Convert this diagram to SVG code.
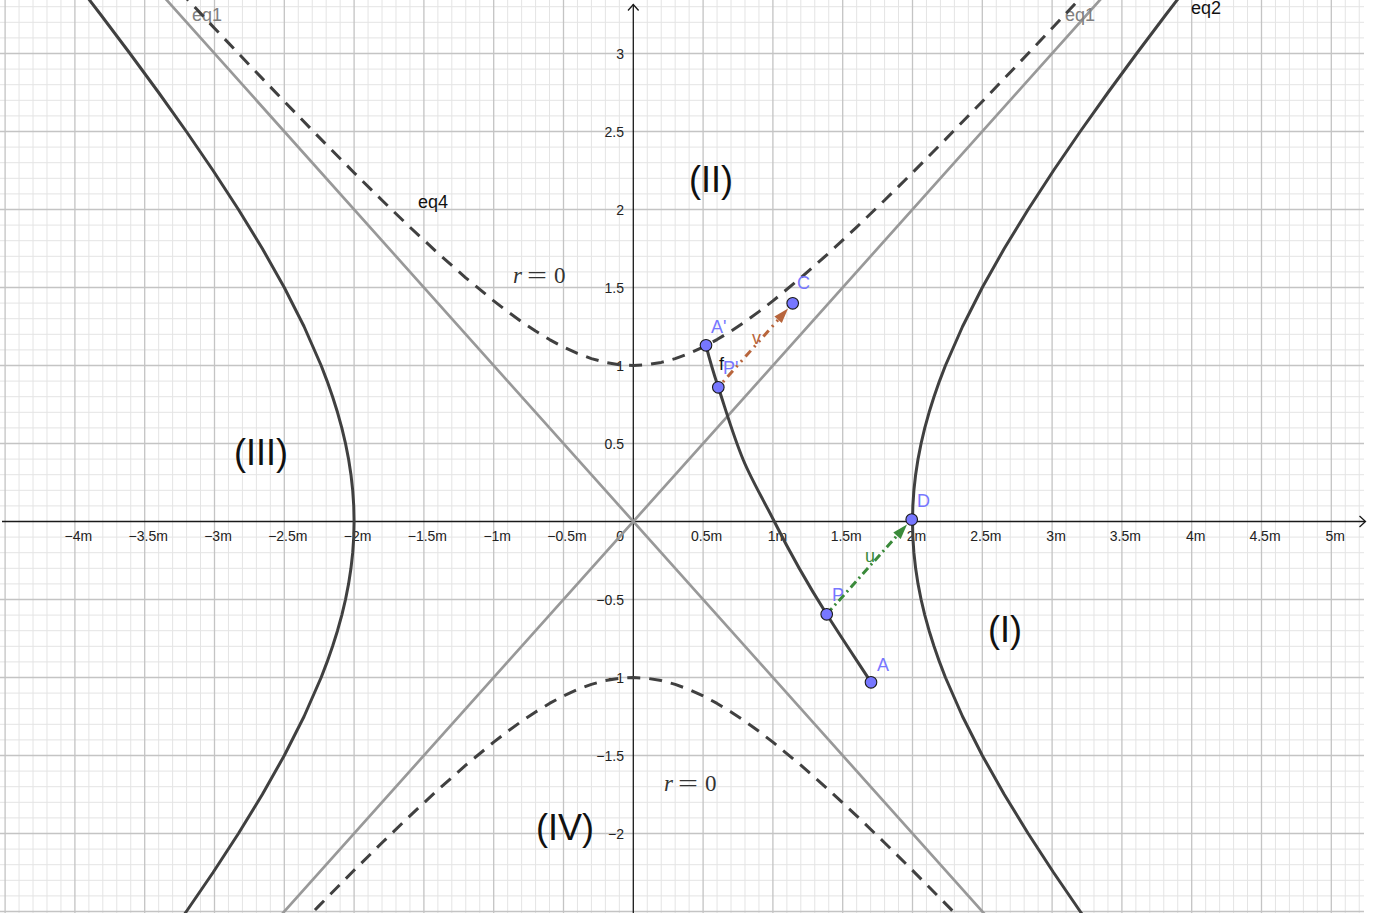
<svg xmlns="http://www.w3.org/2000/svg" width="1378" height="913" viewBox="0 0 1378 913">
<style>
text{font-family:"Liberation Sans",Arial,sans-serif}
.minor{stroke:#e4e4e4;stroke-width:1;fill:none}
.major{stroke:#c4c4c4;stroke-width:1.3;fill:none}
.axis{stroke:#1a1a1a;stroke-width:1.3;fill:none}
.tick{font-size:14px;fill:#222}
.xt{text-anchor:middle}
.yt{text-anchor:end}
.asym{stroke:#999;stroke-width:2.7;fill:none}
.hyp{stroke:#404040;stroke-width:3;fill:none;stroke-linejoin:round}
.dash{stroke-dasharray:13 9}
.pt{fill:#7777ff;stroke:#1a1a1a;stroke-width:1.1}
.plab{font-size:18px;fill:#7777ff}
.lab{font-size:18px}
.region{font-size:36px;fill:#111;text-anchor:middle}
.math text{font-family:"Liberation Serif","Times New Roman",serif;font-size:23px;fill:#333}
</style>
<rect width="1378" height="913" fill="#fff"/>
<g id="grid">
<path class="minor" d="M19.06 0V913M33.02 0V913M46.98 0V913M60.94 0V913M88.86 0V913M102.82 0V913M116.78 0V913M130.74 0V913M158.66 0V913M172.62 0V913M186.58 0V913M200.54 0V913M228.46 0V913M242.42 0V913M256.38 0V913M270.34 0V913M298.26 0V913M312.22 0V913M326.18 0V913M340.14 0V913M368.06 0V913M382.02 0V913M395.98 0V913M409.94 0V913M437.86 0V913M451.82 0V913M465.78 0V913M479.74 0V913M507.66 0V913M521.62 0V913M535.58 0V913M549.54 0V913M577.46 0V913M591.42 0V913M605.38 0V913M619.34 0V913M647.26 0V913M661.22 0V913M675.18 0V913M689.14 0V913M717.06 0V913M731.02 0V913M744.98 0V913M758.94 0V913M786.86 0V913M800.82 0V913M814.78 0V913M828.74 0V913M856.66 0V913M870.62 0V913M884.58 0V913M898.54 0V913M926.46 0V913M940.42 0V913M954.38 0V913M968.34 0V913M996.26 0V913M1010.22 0V913M1024.18 0V913M1038.14 0V913M1066.06 0V913M1080.02 0V913M1093.98 0V913M1107.94 0V913M1135.86 0V913M1149.82 0V913M1163.78 0V913M1177.74 0V913M1205.66 0V913M1219.62 0V913M1233.58 0V913M1247.54 0V913M1275.46 0V913M1289.42 0V913M1303.38 0V913M1317.34 0V913M1345.26 0V913M1359.22 0V913"/>
<path class="minor" d="M0 6.7H1364M0 22.3H1364M0 37.9H1364M0 69.1H1364M0 84.7H1364M0 100.3H1364M0 115.9H1364M0 147.1H1364M0 162.7H1364M0 178.3H1364M0 193.9H1364M0 225.1H1364M0 240.7H1364M0 256.3H1364M0 271.9H1364M0 303.1H1364M0 318.7H1364M0 334.3H1364M0 349.9H1364M0 381.1H1364M0 396.7H1364M0 412.3H1364M0 427.9H1364M0 459.1H1364M0 474.7H1364M0 490.3H1364M0 505.9H1364M0 537.1H1364M0 552.7H1364M0 568.3H1364M0 583.9H1364M0 615.1H1364M0 630.7H1364M0 646.3H1364M0 661.9H1364M0 693.1H1364M0 708.7H1364M0 724.3H1364M0 739.9H1364M0 771.1H1364M0 786.7H1364M0 802.3H1364M0 817.9H1364M0 849.1H1364M0 864.7H1364M0 880.3H1364M0 895.9H1364"/>
<path class="major" d="M5.1 0V913M74.9 0V913M144.7 0V913M214.5 0V913M284.3 0V913M354.1 0V913M423.9 0V913M493.7 0V913M563.5 0V913M703.1 0V913M772.9 0V913M842.7 0V913M912.5 0V913M982.3 0V913M1052.1 0V913M1121.9 0V913M1191.7 0V913M1261.5 0V913M1331.3 0V913"/>
<path class="major" d="M0 53.5H1364M0 131.5H1364M0 209.5H1364M0 287.5H1364M0 365.5H1364M0 443.5H1364M0 599.5H1364M0 677.5H1364M0 755.5H1364M0 833.5H1364M0 911.5H1364"/>
</g>
<g id="axes">
<path class="axis" d="M2 521.5H1365M633.3 913V4.5"/>
<path class="axis" d="M1359.5 516L1365.5 521.5L1359.5 527M628 10.5L633.3 4.5L638.6 10.5"/>
<g class="tick xt">
<text x="78.4" y="541">−4m</text>
<text x="148.2" y="541">−3.5m</text>
<text x="218" y="541">−3m</text>
<text x="287.8" y="541">−2.5m</text>
<text x="357.6" y="541">−2m</text>
<text x="427.4" y="541">−1.5m</text>
<text x="497.2" y="541">−1m</text>
<text x="567" y="541">−0.5m</text>
<text x="706.6" y="541">0.5m</text>
<text x="777.4" y="541">1m</text>
<text x="846.2" y="541">1.5m</text>
<text x="916.5" y="541">2m</text>
<text x="985.8" y="541">2.5m</text>
<text x="1056.1" y="541">3m</text>
<text x="1125.4" y="541">3.5m</text>
<text x="1195.7" y="541">4m</text>
<text x="1265" y="541">4.5m</text>
<text x="1335.3" y="541">5m</text>
</g>
<g class="tick yt">
<text x="624" y="541">0</text>
<text x="624" y="58.5">3</text>
<text x="624" y="136.5">2.5</text>
<text x="624" y="214.5">2</text>
<text x="624" y="292.5">1.5</text>
<text x="624" y="370.5">1</text>
<text x="624" y="448.5">0.5</text>
<text x="624" y="604.5">−0.5</text>
<text x="624" y="682.5">−1</text>
<text x="624" y="760.5">−1.5</text>
<text x="624" y="838.5">−2</text>
</g>
</g>
<g id="eq1">
<path class="asym" d="M272.2 925L1108.9 -10M157.7 -10L994.4 925"/>
<text class="lab" x="192" y="21" fill="#808080">eq1</text>
<text class="lab" x="1065" y="21" fill="#808080">eq1</text>
</g>
<g id="eq4">
<polyline class="hyp dash" points="179.6,-8.96 214.5,28.18 249.4,65.02 284.3,101.46 319.2,137.41 354.1,172.69 382.02,200.28 409.94,227.16 437.86,253.11 465.78,277.82 493.7,300.88 507.66,311.62 521.62,321.72 535.58,331.08 549.54,339.57 563.5,347.09 577.46,353.48 591.42,358.63 605.38,362.41 619.34,364.72 633.3,365.5 647.26,364.72 661.22,362.41 675.18,358.63 689.14,353.48 703.1,347.09 717.06,339.57 731.02,331.08 744.98,321.72 758.94,311.62 772.9,300.88 800.82,277.82 828.74,253.11 856.66,227.16 884.58,200.28 912.5,172.69 947.4,137.41 982.3,101.46 1017.2,65.02 1052.1,28.18 1087,-8.96"/>
<polyline class="hyp dash" points="284.3,941.54 319.2,905.59 354.1,870.31 382.02,842.72 409.94,815.84 437.86,789.89 465.78,765.18 493.7,742.12 507.66,731.38 521.62,721.28 535.58,711.92 549.54,703.43 563.5,695.91 577.46,689.52 591.42,684.37 605.38,680.59 619.34,678.28 633.3,677.5 647.26,678.28 661.22,680.59 675.18,684.37 689.14,689.52 703.1,695.91 717.06,703.43 731.02,711.92 744.98,721.28 758.94,731.38 772.9,742.12 800.82,765.18 828.74,789.89 856.66,815.84 884.58,842.72 912.5,870.31 947.4,905.59 982.3,941.54"/>
<text class="lab" x="418" y="208" fill="#111">eq4</text>
</g>
<g id="eq2">
<polyline class="hyp" points="1183.97,-8.9 1166,14.5 1136.64,53.5 1108,92.5 1080.24,131.5 1053.55,170.5 1028.15,209.5 1004.29,248.5 982.3,287.5 962.55,326.5 945.45,365.5 939.47,381.1 934.01,396.7 929.11,412.3 924.79,427.9 921.09,443.5 918.03,459.1 915.63,474.7 913.89,490.3 912.85,505.9 912.5,521.5 912.85,537.1 913.89,552.7 915.63,568.3 918.03,583.9 921.09,599.5 924.79,615.1 929.11,630.7 934.01,646.3 939.47,661.9 945.45,677.5 962.55,716.5 982.3,755.5 1004.29,794.5 1028.15,833.5 1053.55,872.5 1080.24,911.5 1091.2,927.1"/>
<polyline class="hyp" points="82.63,-8.9 100.6,14.5 129.96,53.5 158.6,92.5 186.36,131.5 213.05,170.5 238.45,209.5 262.31,248.5 284.3,287.5 304.05,326.5 321.15,365.5 327.13,381.1 332.59,396.7 337.49,412.3 341.81,427.9 345.51,443.5 348.57,459.1 350.97,474.7 352.71,490.3 353.75,505.9 354.1,521.5 353.75,537.1 352.71,552.7 350.97,568.3 348.57,583.9 345.51,599.5 341.81,615.1 337.49,630.7 332.59,646.3 327.13,661.9 321.15,677.5 304.05,716.5 284.3,755.5 262.31,794.5 238.45,833.5 213.05,872.5 186.36,911.5 175.4,927.1"/>
<text class="lab" x="1191" y="14" fill="#111">eq2</text>
</g>
<g id="regions">
<text class="region" x="1005" y="642">(I)</text>
<text class="region" x="711" y="192">(II)</text>
<text class="region" x="261" y="465">(III)</text>
<text class="region" x="565" y="840">(IV)</text>
</g>
<g id="r0-top" class="math">
<text x="513" y="283" font-style="italic">r</text>
<text x="527" y="283" textLength="20" lengthAdjust="spacingAndGlyphs">=</text>
<text x="554" y="283">0</text>
</g>
<g id="r0-bottom" class="math">
<text x="664" y="791" font-style="italic">r</text>
<text x="678" y="791" textLength="20" lengthAdjust="spacingAndGlyphs">=</text>
<text x="705" y="791">0</text>
</g>
<g id="connectors">
<path id="f" class="hyp" stroke-width="2.7" d="M871,682.3 C856.2,659.6 841,637 826.7,614.3 C807.2,583.3 789.8,552.5 774.3,521.5 C764.05,501 751.8,480.5 743.3,460 C733.2,435.8 726.3,411.5 718.3,387.3 C713.7,373.3 709.5,359.3 706,345.3"/>
<g id="u">
<path d="M826.7 614.3L897 535.7" stroke="#3a8a3a" stroke-width="3" stroke-dasharray="8 4 2 4" fill="none"/>
<polygon points="907,524.5 900.7,539 893.3,532.4" fill="#3a8a3a"/>
</g>
<g id="v">
<path d="M718.3 387.3L778.1 319.8" stroke="#b8653c" stroke-width="3" stroke-dasharray="2 5 2 5 8 5" fill="none"/>
<polygon points="788.1,308.5 781.8,323.1 774.4,316.5" fill="#b8653c"/>
</g>
</g>
<text class="lab" x="719" y="370" fill="#111">f</text>
<text class="lab" x="865" y="562" fill="#3a8a3a">u</text>
<text class="lab" x="752" y="344" fill="#b8653c">v</text>
<g id="A"><circle class="pt" cx="871" cy="682.3" r="5.8"/><text class="plab" x="877" y="671">A</text></g>
<g id="P"><circle class="pt" cx="826.7" cy="614.3" r="5.8"/><text class="plab" x="832" y="601">P</text></g>
<g id="D"><circle class="pt" cx="911.7" cy="519.5" r="5.8"/><text class="plab" x="917" y="507">D</text></g>
<g id="Pp"><circle class="pt" cx="718.3" cy="387.3" r="5.8"/><text class="plab" x="723" y="374">P'</text></g>
<g id="Ap"><circle class="pt" cx="706" cy="345.3" r="5.8"/><text class="plab" x="711" y="333">A'</text></g>
<g id="C"><circle class="pt" cx="792.7" cy="303.3" r="5.8"/><text class="plab" x="797" y="289">C</text></g>
</svg>
